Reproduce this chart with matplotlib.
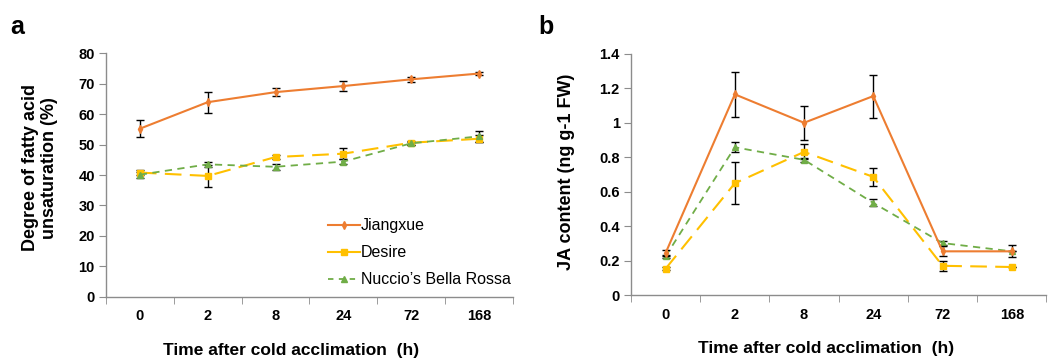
import matplotlib
matplotlib.use("Agg")
import matplotlib.pyplot as plt
import numpy as np
from matplotlib.lines import Line2D

plt.rcParams['font.family'] = ['Liberation Sans', 'DejaVu Sans']

times = ["0", "2", "8", "24", "72", "168"]

# Panel a: degree of fatty acid unsaturation (%)
a_jiang = [55.2, 63.9, 67.2, 69.2, 71.4, 73.3]
a_jiang_err = [2.7, 3.4, 1.2, 1.6, 0.9, 0.6]
a_desire = [40.8, 39.7, 45.9, 47.0, 50.6, 51.9]
a_desire_err = [0.8, 3.6, 0.6, 1.8, 0.6, 1.1]
a_nuccio = [40.1, 43.5, 42.7, 44.4, 50.4, 52.7]
a_nuccio_err = [1.0, 0.8, 1.0, 0.7, 0.4, 1.9]

# Panel b: JA content (ng g-1 FW)
b_jiang = [0.244, 1.165, 1.0, 1.155, 0.254, 0.254]
b_jiang_err = [0.015, 0.13, 0.1, 0.125, 0.03, 0.0]
b_desire = [0.153, 0.649, 0.831, 0.686, 0.17, 0.163]
b_desire_err = [0.01, 0.123, 0.044, 0.05, 0.03, 0.0]
b_nuccio = [0.225, 0.858, 0.785, 0.535, 0.302, 0.254]
b_nuccio_err = [0.01, 0.03, 0.01, 0.02, 0.01, 0.035]

c_j = "#ED7D31"
c_d = "#FFC000"
c_n = "#70AD47"
axc = "#8C8C8C"

fig = plt.figure(figsize=(10.49, 3.59), dpi=100)
axa = fig.add_axes([0.101, 0.173, 0.388, 0.679])
axb = fig.add_axes([0.6015, 0.178, 0.396, 0.672])

x = np.arange(len(times))

def draw(ax, j, je, d, de, n, ne, ylim, yticks, yticklabels, ylabel, ylab_x, ylab_y, xlab_x):
    ax.errorbar(x, j, yerr=je, color=c_j, lw=1.5, marker='d', ms=4,
                ecolor='black', elinewidth=1, capsize=3, capthick=1,
                label='Jiangxue', zorder=3)
    ax.errorbar(x, d, yerr=de, color=c_d, lw=1.5, ls=(0, (8, 4)), marker='s', ms=5,
                ecolor='black', elinewidth=1, capsize=3, capthick=1,
                label='Desire', zorder=2)
    ax.errorbar(x, n, yerr=ne, color=c_n, lw=1.3, ls=(0, (4, 3)), marker='^', ms=4,
                ecolor='black', elinewidth=1, capsize=3, capthick=1,
                label="Nuccio\u2019s Bella Rossa", zorder=2)
    ax.set_xlim(-0.5, len(times) - 0.5)
    ax.set_ylim(*ylim)
    ax.set_yticks(yticks)
    ax.set_yticklabels(yticklabels, fontsize=10.5, fontweight='bold')
    ax.set_xticks(x)
    ax.set_xticklabels(times, fontsize=10.5, fontweight='bold')
    ax.set_xticks(np.arange(-0.5, len(times)), minor=True)
    ax.tick_params(axis='x', which='major', length=0, pad=9)
    ax.tick_params(axis='x', which='minor', length=5, color=axc, direction='out')
    ax.tick_params(axis='y', length=5, color=axc, pad=3)
    for s in ['top', 'right']:
        ax.spines[s].set_visible(False)
    for s in ['left', 'bottom']:
        ax.spines[s].set_color(axc)
        ax.spines[s].set_linewidth(1)
    ax.set_xlabel("Time after cold acclimation  (h)", fontsize=12.5, fontweight='bold')
    ax.xaxis.set_label_coords(xlab_x, -0.19)
    ax.set_ylabel(ylabel, fontsize=13, fontweight='bold')
    ax.yaxis.set_label_coords(ylab_x, ylab_y)

draw(axa, a_jiang, a_jiang_err, a_desire, a_desire_err, a_nuccio, a_nuccio_err,
     (0, 80), np.arange(0, 81, 10), [str(v) for v in range(0, 81, 10)],
     "Degree of fatty acid\nunsaturation (%)", -0.117, 0.53, 0.455)
draw(axb, b_jiang, b_jiang_err, b_desire, b_desire_err, b_nuccio, b_nuccio_err,
     (0, 1.4), np.arange(0, 1.41, 0.2), ["0", "0.2", "0.4", "0.6", "0.8", "1", "1.2", "1.4"],
     "JA content (ng g-1 FW)", -0.135, 0.51, 0.47)

labels = ['Jiangxue', 'Desire', "Nuccio\u2019s Bella Rossa"]
hs = [Line2D([], [], color=c_j, lw=1.5, marker='d', ms=4),
      Line2D([], [], color=c_d, lw=1.5, marker='s', ms=4),
      Line2D([], [], color=c_n, lw=1.3, ls=(0, (3, 3)), marker='^', ms=4)]
axa.legend(hs, labels, loc='lower right', bbox_to_anchor=(1.03, -0.02), frameon=False,
           fontsize=11.5, handlelength=2.0, handletextpad=0.05, labelspacing=0.75)

fig.text(0.010, 0.905, "a", fontsize=18, fontweight='bold')
fig.text(0.513, 0.905, "b", fontsize=18, fontweight='bold')

fig.savefig("out.png", dpi=100)
